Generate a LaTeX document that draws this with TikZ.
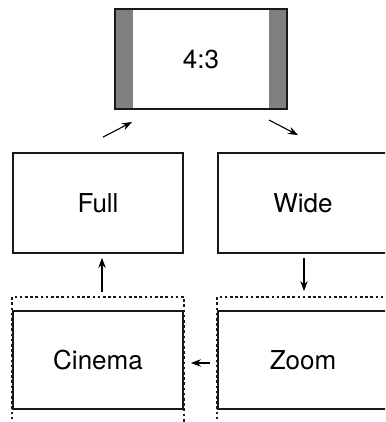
\documentclass[tikz,border=0pt]{standalone}
\usepackage{fontspec}
\setmainfont{TeX Gyre Heros}
\usepackage{xcolor}
\usetikzlibrary{arrows.meta}
\definecolor{barcol}{RGB}{128,128,131}

\begin{document}
\begin{tikzpicture}[x=1pt, y=1pt,
  every node/.style={font=\fontsize{26}{30}\selectfont},
  modebox/.style={draw=black!90, line width=1.8pt, inner sep=0pt, minimum width=170pt, minimum height=100pt},
  dotframe/.style={black!90, line width=1.8pt, dash pattern=on 2.6pt off 2.6pt},
  arr/.style={black, line width=1.1pt, -{Stealth[length=10pt, width=7.5pt]}}]
\path[use as bounding box, clip] (0,0) rectangle (385,422);

%\path (201,363) node {4:3};
\node[modebox, line width=2.1pt, minimum width=172pt,
  path picture={
    \fill[barcol] (path picture bounding box.south west) rectangle ++(18,100);
    \fill[barcol] (path picture bounding box.north east) rectangle ++(-18,-100);
  }] (scr) at (201,363) {4:3};

\node[modebox] (full) at (98,219) {Full};
\node[modebox] (wide) at (303,219) {Wide};
\node[modebox, minimum height=98pt] (cinema) at (98,62) {Cinema};
\node[modebox, minimum height=98pt] (zoom) at (303,62) {Zoom};

% dotted frames
\draw[dotframe] ([yshift=-20pt]cinema.south west) -- ([yshift=13pt]cinema.north west)
  -- ([yshift=13pt]cinema.north east) -- ([yshift=-20pt]cinema.south east);
\draw[dotframe] ([yshift=-20pt]zoom.south west) -- ([yshift=13pt]zoom.north west)
  -- ([yshift=13pt]zoom.north east);

\draw[arr] ([xshift=5pt, yshift=15pt]full.north) -- ([xshift=18pt, yshift=-12pt]scr.south west);
\draw[arr] ([xshift=-19pt, yshift=-10pt]scr.south east) -- ([xshift=-5pt, yshift=17pt]wide.north);
\draw[arr] ([xshift=1pt, yshift=-4pt]wide.south) -- ([xshift=1pt, yshift=19pt]zoom.north);
\draw[arr] ([xshift=-7pt, yshift=-3pt]zoom.west) -- ([xshift=7pt, yshift=-3pt]cinema.east);
\draw[arr] ([xshift=4pt, yshift=18pt]cinema.north) -- ([xshift=4pt, yshift=-4pt]full.south);
\end{tikzpicture}
\end{document}
